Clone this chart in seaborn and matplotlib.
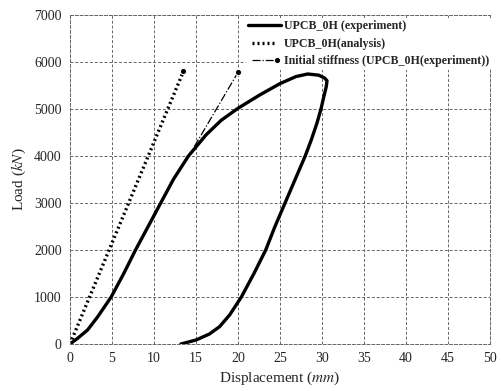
import matplotlib
matplotlib.use("Agg")
import matplotlib.pyplot as plt
from matplotlib.legend_handler import HandlerLine2D
import seaborn as sns

# experiment: load-displacement loop (mm, kN)
exp_disp = [0.0, 0.9, 2.1, 3.3, 4.9, 6.4, 7.8, 9.3, 10.8, 12.3, 14.1, 16.2, 18.0,
            20.0, 22.6, 25.0, 26.9, 28.3, 29.6, 30.3, 30.6, 30.5, 30.2, 29.9,
            29.4, 28.7, 28.0, 26.8, 25.6, 24.4, 23.3, 21.9, 20.4, 19.0, 17.8,
            16.6, 15.0, 13.2]
exp_load = [0, 120, 300, 580, 1000, 1500, 2000, 2500, 3000, 3500, 4000, 4450, 4760,
            5015, 5300, 5540, 5690, 5745, 5720, 5660, 5600, 5470, 5250, 5015,
            4700, 4330, 4000, 3500, 3000, 2500, 2000, 1500, 1000, 617, 368,
            213, 85, 0]

# analysis
ana_disp = [0.0, 13.5]
ana_load = [0, 5800]

# initial stiffness of experiment
ini_disp = [14.8, 20.0]
ini_load = [4200, 5780]

sns.set_style("white")
plt.rcParams['font.family'] = ['Liberation Serif', 'DejaVu Serif']
plt.rcParams['mathtext.fontset'] = 'stix'

fig, ax = plt.subplots(figsize=(5.01, 3.91), dpi=100)
fig.subplots_adjust(left=70/501, right=490/501, top=1-15/391, bottom=1-344/391)

sns.lineplot(x=exp_disp, y=exp_load, sort=False, estimator=None, ax=ax,
             color='black', linewidth=2.4, solid_joinstyle='round',
             label='UPCB_0H (experiment)')
sns.lineplot(x=ana_disp, y=ana_load, sort=False, estimator=None, ax=ax,
             color='black', linewidth=2.4, linestyle=(0, (0.6, 0.9)),
             marker='o', markersize=4.5, markevery=[1],
             label='UPCB_0H(analysis)')
sns.lineplot(x=ini_disp, y=ini_load, sort=False, estimator=None, ax=ax,
             color='black', linewidth=0.9, linestyle='-.', marker='o',
             markersize=4.5, markevery=[1],
             label='Initial stiffness (UPCB_0H(experiment))')

ax.set_xlim(0, 50)
ax.set_ylim(0, 7000)
ax.set_xticks(range(0, 51, 5))
ax.set_yticks(range(0, 7001, 1000))
ax.tick_params(length=0, labelsize=10, pad=6)
ax.grid(True, color='#666666', linestyle=(0, (3, 2)), linewidth=0.7)
for s in ax.spines.values():
    s.set_linestyle((0, (3, 2)))
    s.set_color('#666666')
    s.set_linewidth(0.7)

ax.set_xlabel('Displacement ($\\mathit{mm}$)', fontsize=11, labelpad=3)
ax.set_ylabel('Load ($\\mathit{kN}$)', fontsize=11, labelpad=4)


def no_marker(handle, orig):
    handle.update_from(orig)
    handle.set_marker('')


def end_marker(handle, orig):
    handle.update_from(orig)
    handle.set_markevery([1])


lines = ax.get_lines()
leg = ax.legend(loc='upper left', bbox_to_anchor=(246/501, 1-18/391),
                bbox_transform=fig.transFigure, frameon=True,
                handler_map={lines[1]: HandlerLine2D(numpoints=2, update_func=no_marker),
                             lines[2]: HandlerLine2D(numpoints=2, update_func=end_marker)},
                prop={'family': 'Liberation Serif', 'weight': 'bold', 'size': 8.6},
                handlelength=2.7, handletextpad=0.3, labelspacing=0.45,
                borderpad=0.2, borderaxespad=0)
leg.get_frame().set_edgecolor('none')
leg.get_frame().set_facecolor('white')
leg.get_frame().set_alpha(1)

fig.savefig('out.png', dpi=100)
